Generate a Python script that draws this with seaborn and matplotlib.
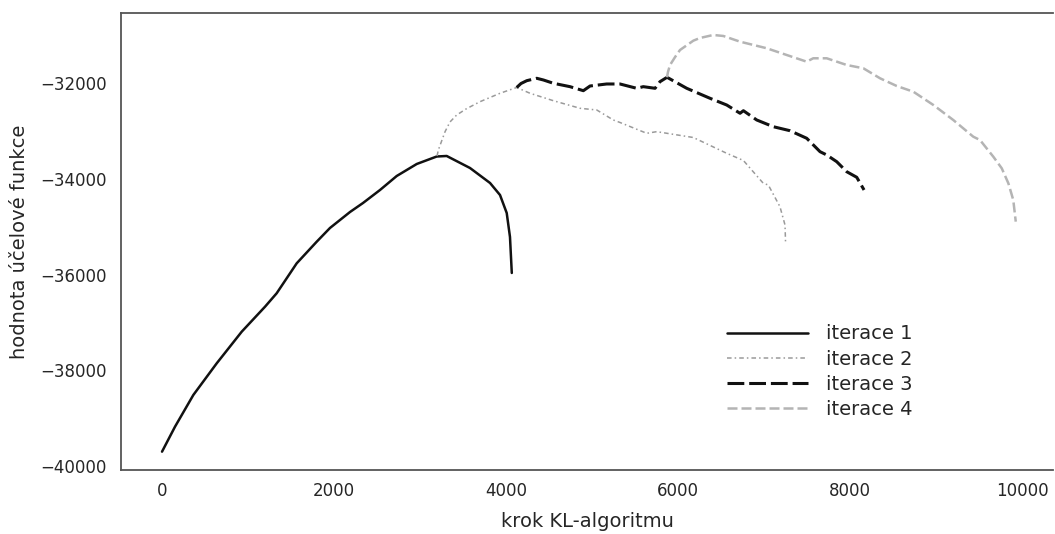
import pandas as pd
import numpy as np
import seaborn as sns
import matplotlib.pyplot as plt

# values (step of KL algorithm, objective value)
iter1_x = [0, 151, 364, 636, 927, 1198, 1333, 1566, 1799, 1953, 2186, 2337,
           2535, 2729, 2962, 3194, 3310, 3581, 3814, 3930, 4008, 4046, 4067]
iter1_y = [-39701, -39179, -38517, -37855, -37194, -36672, -36392, -35766,
           -35314, -35028, -34694, -34506, -34234, -33942, -33691, -33535,
           -33524, -33775, -34088, -34339, -34715, -35216, -35968]

iter2_x = [3198, 3213, 3291, 3348, 3426, 3535, 3697, 3930, 4124, 4279, 4550,
           4861, 5055, 5247, 5325, 5636, 5752, 6178, 6566, 6760, 6991, 7050,
           7185, 7244, 7250]
iter2_y = [-33524, -33399, -33016, -32814, -32668, -32542, -32390, -32214,
           -32093, -32214, -32369, -32528, -32563, -32772, -32824, -33050,
           -33016, -33138, -33468, -33618, -34094, -34130, -34583, -34966,
           -35321]

iter3_x = [4124, 4174, 4241, 4357, 4434, 4550, 4744, 4899, 4977, 5170, 5325,
           5519, 5596, 5733, 5790, 5872, 6101, 6372, 6566, 6721, 6760, 6915,
           7107, 7302, 7496, 7651, 7729, 7845, 7961, 8078, 8163]
iter3_y = [-32093, -32010, -31951, -31901, -31936, -32005, -32076, -32160,
           -32062, -32020, -32020, -32110, -32076, -32110, -31972, -31880,
           -32110, -32319, -32459, -32632, -32578, -32772, -32912, -32996,
           -33154, -33434, -33503, -33643, -33852, -33969, -34234]

iter4_x = [5872, 5883, 5907, 5966, 6023, 6178, 6255, 6410, 6527, 6721, 7032,
           7263, 7496, 7572, 7729, 7961, 8155, 8349, 8543, 8736, 8969, 9200,
           9433, 9511, 9666, 9764, 9841, 9898, 9927]
iter4_y = [-31880, -31769, -31623, -31456, -31310, -31115, -31059, -30996,
           -31017, -31136, -31274, -31414, -31554, -31483, -31483, -31623,
           -31692, -31901, -32062, -32181, -32459, -32772, -33121, -33190,
           -33539, -33781, -34094, -34443, -34896]

labels = ['iterace 1', 'iterace 2', 'iterace 3', 'iterace 4']

frames = []
for lab, xs, ys in zip(labels, [iter1_x, iter2_x, iter3_x, iter4_x],
                       [iter1_y, iter2_y, iter3_y, iter4_y]):
    frames.append(pd.DataFrame({'krok': xs, 'hodnota': ys, 'iterace': lab}))
df = pd.concat(frames, ignore_index=True)

styles = {
    'iterace 1': dict(color='#111111', lw=1.8, ls='-'),
    'iterace 2': dict(color='#9a9a9a', lw=1.1, ls=(0, (3, 2, 1, 2))),
    'iterace 3': dict(color='#111111', lw=2.2, ls=(0, (5.5, 1.6))),
    'iterace 4': dict(color='#b4b4b4', lw=1.8, ls=(0, (4, 1.6))),
}

sns.set_style('white')
plt.rcParams['font.family'] = ['DejaVu Sans']

fig, ax = plt.subplots(figsize=(10.55, 5.34), dpi=100)
fig.subplots_adjust(left=121/1055, right=1053/1055, bottom=1-470/534, top=1-13/534)

for lab in labels:
    st = styles[lab]
    sns.lineplot(data=df[df['iterace'] == lab], x='krok', y='hodnota',
                 estimator=None, sort=False, ax=ax, label=lab,
                 color=st['color'], linewidth=st['lw'], linestyle=st['ls'])

ax.set_xlim(-477, 10360)
ax.set_ylim(-40084, -30537)
ax.set_xticks([0, 2000, 4000, 6000, 8000, 10000])
ax.set_yticks([-40000, -38000, -36000, -34000, -32000])

ax.set_xlabel('krok KL-algoritmu', fontsize=14, color='#262626', labelpad=8.5)
ax.set_ylabel('hodnota účelové funkce', fontsize=14, color='#262626', labelpad=8)
ax.tick_params(axis='both', labelsize=12, labelcolor='#262626', length=0)
ax.tick_params(axis='x', pad=9)
ax.tick_params(axis='y', pad=10)

ax.spines['right'].set_visible(False)
for s in ['left', 'top', 'bottom']:
    ax.spines[s].set_color('#555555')
    ax.spines[s].set_linewidth(1.3)

ax.legend(loc='upper left', bbox_to_anchor=(0.631, 0.357), frameon=False,
          fontsize=14, handlelength=4.2, handletextpad=0.9, labelspacing=0.32)

plt.savefig('out.png', dpi=100)
